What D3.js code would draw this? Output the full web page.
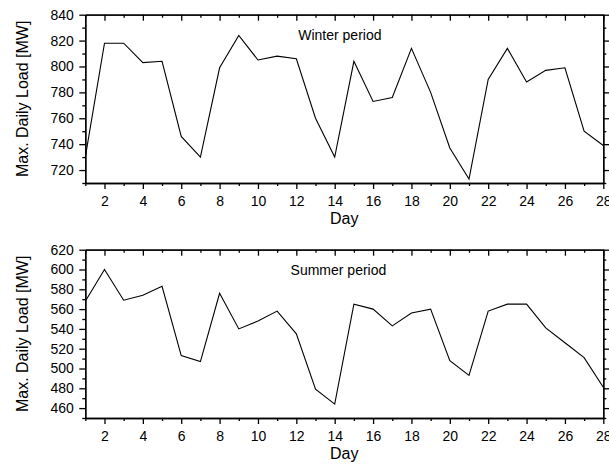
<!DOCTYPE html>
<html>
<head>
<meta charset="utf-8">
<script src="https://cdn.jsdelivr.net/npm/d3@7/dist/d3.min.js"></script>
<style>
  body { margin: 0; background: #fff; }
  svg { display: block; font-family: "Liberation Sans", Arial, sans-serif; }
</style>
</head>
<body>
<svg id="chart" width="609" height="473"></svg>
<script>
const days = d3.range(1, 29);
const winterLoad = [730, 818, 818, 803, 804, 746, 730, 799, 824, 805, 808, 806, 760, 730,
  804, 773, 776, 814, 780, 737, 713, 790, 814, 788, 797, 799, 750, 739];
const summerLoad = [568, 600, 569, 574, 583, 513, 507, 576, 540, 548, 558, 535, 479, 464,
  565, 560, 543, 556, 560, 508, 493, 558, 565, 565, 541, 526, 511, 481];
const xTickLabels = [2, 4, 6, 8, 10, 12, 14, 16, 18, 20, 22, 24, 26, 28];
const winterYTicks = [720, 740, 760, 780, 800, 820, 840];
const summerYTicks = [460, 480, 500, 520, 540, 560, 580, 600, 620];
const panelTitles = ["Winter period", "Summer period"];
const panelTitleDay = [12.1, 11.7];
const yTitle = "Max. Daily Load [MW]";
const xTitle = "Day";

const svg = d3.select("#chart");
const left = 85.3, right = 603.3;

const panels = [
  { top: 14.7, bottom: 183, domain: [710, 840], ticks: winterYTicks, data: winterLoad, title: panelTitles[0], tday: panelTitleDay[0] },
  { top: 249.7, bottom: 418, domain: [450, 620], ticks: summerYTicks, data: summerLoad, title: panelTitles[1], tday: panelTitleDay[1] }
];

const x = d3.scaleLinear().domain([1, 28]).range([left, right]);
const minorX = days.filter(d => d % 2 === 1);

panels.forEach(p => {
  const y = d3.scaleLinear().domain(p.domain).range([p.bottom, p.top]);
  const minorY = d3.range(p.domain[0], p.domain[1] + 1, 10).filter(v => !p.ticks.includes(v));
  const g = svg.append("g");

  function styleAxis(sel) {
    sel.selectAll("path.domain").attr("stroke", "#000").attr("stroke-width", 1.3);
    sel.selectAll(".tick line").attr("stroke", "#000").attr("stroke-width", 1.3);
    sel.selectAll("text").attr("fill", "#000").attr("font-size", "14px")
      .attr("font-family", "'Liberation Sans', Arial, sans-serif");
  }

  // minor ticks
  g.append("g").attr("transform", `translate(${left},0)`)
    .call(d3.axisLeft(y).tickValues(minorY).tickSize(3).tickFormat("").tickSizeOuter(0))
    .call(styleAxis);
  g.append("g").attr("transform", `translate(${right},0)`)
    .call(d3.axisLeft(y).tickValues(minorY).tickSize(-3).tickFormat("").tickSizeOuter(0))
    .call(styleAxis);
  g.append("g").attr("transform", `translate(0,${p.bottom})`)
    .call(d3.axisBottom(x).tickValues(minorX).tickSize(3).tickFormat("").tickSizeOuter(0))
    .call(styleAxis);
  g.append("g").attr("transform", `translate(0,${p.top})`)
    .call(d3.axisBottom(x).tickValues(minorX).tickSize(3).tickFormat("").tickSizeOuter(0))
    .call(styleAxis);

  // major ticks
  g.append("g").attr("transform", `translate(${left},0)`)
    .call(d3.axisLeft(y).tickValues(p.ticks).tickSize(6).tickPadding(5.5).tickSizeOuter(0).tickFormat(d3.format("d")))
    .call(styleAxis);
  g.append("g").attr("transform", `translate(${right},0)`)
    .call(d3.axisLeft(y).tickValues(p.ticks).tickSize(-6).tickFormat("").tickSizeOuter(0))
    .call(styleAxis);
  g.append("g").attr("transform", `translate(0,${p.bottom})`)
    .call(d3.axisBottom(x).tickValues(xTickLabels).tickSize(6).tickPadding(7.5).tickSizeOuter(0).tickFormat(d3.format("d")))
    .call(styleAxis);
  g.append("g").attr("transform", `translate(0,${p.top})`)
    .call(d3.axisBottom(x).tickValues(xTickLabels).tickSize(6).tickFormat("").tickSizeOuter(0))
    .call(styleAxis);

  // line
  const line = d3.line().x((d, i) => x(days[i])).y(d => y(d));
  g.append("path").datum(p.data)
    .attr("d", line).attr("fill", "none").attr("stroke", "#000").attr("stroke-width", 1.1);

  // panel title
  g.append("text").attr("x", x(p.tday)).attr("y", p.top + 25.5)
    .attr("font-size", "14px").attr("fill", "#000").text(p.title);

  // axis titles
  g.append("text").attr("x", (left + right) / 2).attr("y", p.bottom + 41)
    .attr("text-anchor", "middle").attr("font-size", "16px").attr("fill", "#000").text(xTitle);
  g.append("text")
    .attr("transform", `translate(28,${(p.top + p.bottom) / 2}) rotate(-90)`)
    .attr("text-anchor", "middle").attr("font-size", "16px").attr("fill", "#000").text(yTitle);
});
</script>
</body>
</html>
